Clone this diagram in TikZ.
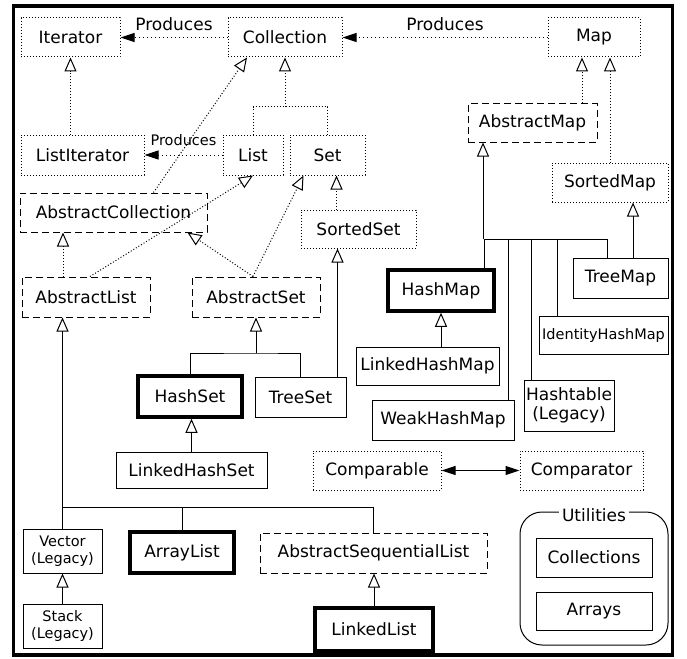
\documentclass[tikz,border=0pt]{standalone}
\usepackage{fontspec}
\setmainfont{DejaVu Sans}
\usetikzlibrary{arrows.meta}

\tikzset{
	box/.style={rectangle, draw, inner sep=2pt, align=center},
	iface/.style={box, dotted},
	abstractcls/.style={box, dash pattern=on 7pt off 4pt},
	cls/.style={box},
	maincls/.style={box, line width=3.5pt},
	smalltext/.style={font=\fontsize{14.5}{16.5}\selectfont},
	utilbox/.style={rectangle, draw, rounded corners=22pt},
	extline/.style={draw},
	implline/.style={draw, dotted},
	ext/.style={draw, -{Triangle[open, length=14pt, width=12pt]}},
	impl/.style={ext, dotted},
	produces/.style={draw, dash pattern=on 1pt off 3pt, -{Triangle[length=14pt, width=9pt]}},
	bothways/.style={draw, {Triangle[length=14pt, width=9pt]}-{Triangle[length=14pt, width=9pt]}}
}

\begin{document}
\begin{tikzpicture}[x=1pt, y=-1pt, line width=1pt, font=\fontsize{17}{19.5}\selectfont]
	\useasboundingbox (0,0) rectangle (687,658);
	\draw[line width=3.5pt] (13.5,6) rectangle (672.5,655);

	\node[iface, minimum width=99, minimum height=39] (iterator) at (70.5,37.5) {Iterator};
	\node[iface, minimum width=114, minimum height=39] (collection) at (285,37.5) {Collection};
	\node[iface, minimum width=92, minimum height=39] (map) at (594,37.5) {Map};
	\node[iface, minimum width=123, minimum height=40] (listiterator) at (82.5,155) {ListIterator};
	\node[iface, minimum width=60, minimum height=40] (list) at (253,155) {List};
	\node[iface, minimum width=75, minimum height=40] (set) at (327.5,155) {Set};
	\node[abstractcls, minimum width=129, minimum height=38] (abstractmap) at (532.5,123) {AbstractMap};
	\node[abstractcls, minimum width=187, minimum height=39] (abstractcollection) at (113.5,212.5) {AbstractCollection};
	\node[iface, minimum width=115, minimum height=38] (sortedset) at (358.5,229) {SortedSet};
	\node[iface, minimum width=116, minimum height=39] (sortedmap) at (610,182.5) {SortedMap};
	\node[abstractcls, minimum width=128, minimum height=40] (abstractlist) at (86,297) {AbstractList};
	\node[abstractcls, minimum width=128, minimum height=40] (abstractset) at (256,297) {AbstractSet};
	\node[cls, minimum width=95, minimum height=40] (treemap) at (620.5,278) {TreeMap};
	\node[maincls, minimum width=106, minimum height=41] (hashmap) at (441,290.5) {HashMap};
	\node[cls, smalltext, minimum width=129, minimum height=38] (identityhashmap) at (603.5,335) {IdentityHashMap};
	\node[cls, minimum width=143, minimum height=38] (linkedhashmap) at (427.5,366) {LinkedHashMap};
	\node[maincls, minimum width=104, minimum height=41] (hashset) at (190,396.5) {HashSet};
	\node[cls, minimum width=91, minimum height=40] (treeset) at (300.5,397) {TreeSet};
	\node[cls, minimum width=90, minimum height=51] (hashtable) at (569,405.5) {Hashtable\\(Legacy)};
	\node[cls, minimum width=142, minimum height=40] (weakhashmap) at (443,420) {WeakHashMap};
	\node[cls, minimum width=151, minimum height=36] (linkedhashset) at (191.5,470) {LinkedHashSet};
	\node[iface, minimum width=128, minimum height=39] (comparable) at (377,470.5) {Comparable};
	\node[iface, minimum width=123, minimum height=39] (comparator) at (581.5,470.5) {Comparator};
	\node[cls, smalltext, minimum width=79, minimum height=44] (vector) at (62.5,551) {Vector\\(Legacy)};
	\node[maincls, minimum width=104, minimum height=41] (arraylist) at (182,552.5) {ArrayList};
	\node[abstractcls, minimum width=227, minimum height=40] (abstractsequentiallist) at (373.5,553) {AbstractSequentialList};
	\node[cls, smalltext, minimum width=79, minimum height=44] (stack) at (62.5,626) {Stack\\(Legacy)};
	\node[maincls, minimum width=118, minimum height=43] (linkedlist) at (374,629.5) {LinkedList};
	\node[utilbox, minimum width=148, minimum height=133] (utilities) at (594,578.5) {};
	\node[fill=white, inner sep=3pt] (utillabel) at ([yshift=-4]utilities.north) {Utilities};
	\node[cls, minimum width=116, minimum height=39] (collections) at (594,557.5) {Collections};
	\node[cls, minimum width=116, minimum height=38] (arrays) at (594,611) {Arrays};

	\draw[produces] (collection) -- node[above=3pt] (producesiter) {Produces} (iterator);
	\draw[produces] (map) -- node[above=3pt] (producescoll) {Produces} (collection);
	\draw[produces] (list) -- node[above=5pt, smalltext] (produceslistit) {Produces} (listiterator);

	\draw[impl] (listiterator.north -| iterator.south) -- (iterator.south);
	\coordinate (colljoin) at (285,107);
	\draw[implline] (list.north) |- (colljoin) -| (set.north);
	\draw[impl] (colljoin) -- (collection.south);
	\draw[impl] ([xshift=40]abstractcollection.north) -- ([xshift=-38]collection.south);
	\draw[impl] ([xshift=4]abstractlist.north) -- (list.south);
	\draw[impl] ([xshift=-3]abstractset.north) -- ([xshift=-24]set.south);
	\draw[impl] ([xshift=-3]abstractset.north) -- ([xshift=-20]abstractcollection.south east);
	\draw[impl] ([xshift=-23]abstractlist.north) -- ([xshift=-23]abstractlist.north |- abstractcollection.south);
	\draw[impl] ([xshift=-22]sortedset.north) -- ([xshift=-22]sortedset.north |- set.south);

	\coordinate (setjoin) at (256,353);
	\draw[extline] (hashset.north) |- (setjoin) -| (treeset.north);
	\draw[ext] (setjoin) -- (abstractset.south);
	\draw[ext] (linkedhashset.north) -- (linkedhashset.north |- hashset.south);
	\draw[ext] ([xshift=37]treeset.north) -- ([xshift=37]treeset.north |- sortedset.south);

	\coordinate (listjoin) at (62.5,507);
	\draw[extline] (vector.north) |- (abstractsequentiallist.north |- listjoin) -- (abstractsequentiallist.north);
	\draw[extline] (arraylist.north) -- (arraylist.north |- listjoin);
	\draw[ext] (listjoin) -- (listjoin |- abstractlist.south);
	\draw[ext] (stack) -- (vector);
	\draw[ext] (linkedlist.north) -- (linkedlist.north |- abstractsequentiallist.south);

	\draw[impl] (sortedmap.north) -- (sortedmap.north |- map.south);
	\draw[impl] ([xshift=49.5]abstractmap.north) -- ([xshift=49.5]abstractmap.north |- map.south);
	\coordinate (mapjoin) at (483,239);
	\draw[ext] (mapjoin) -- (mapjoin |- abstractmap.south);
	\draw[extline] ([xshift=-11]hashmap.north east) |- ([xshift=-13.5]treemap.north |- mapjoin) -- ([xshift=-13.5]treemap.north);
	\draw[extline] ([xshift=-6]weakhashmap.north east) -- ([xshift=-6]weakhashmap.north east |- mapjoin);
	\draw[extline] ([xshift=8]hashtable.north west) -- ([xshift=8]hashtable.north west |- mapjoin);
	\draw[extline] ([xshift=19]identityhashmap.north west) -- ([xshift=19]identityhashmap.north west |- mapjoin);
	\draw[ext] ([xshift=12.5]treemap.north) -- ([xshift=12.5]treemap.north |- sortedmap.south);
	\draw[ext] (hashmap.south |- linkedhashmap.north) -- (hashmap.south);

	\draw[bothways] (comparable) -- (comparator);

\end{tikzpicture}
\end{document}
